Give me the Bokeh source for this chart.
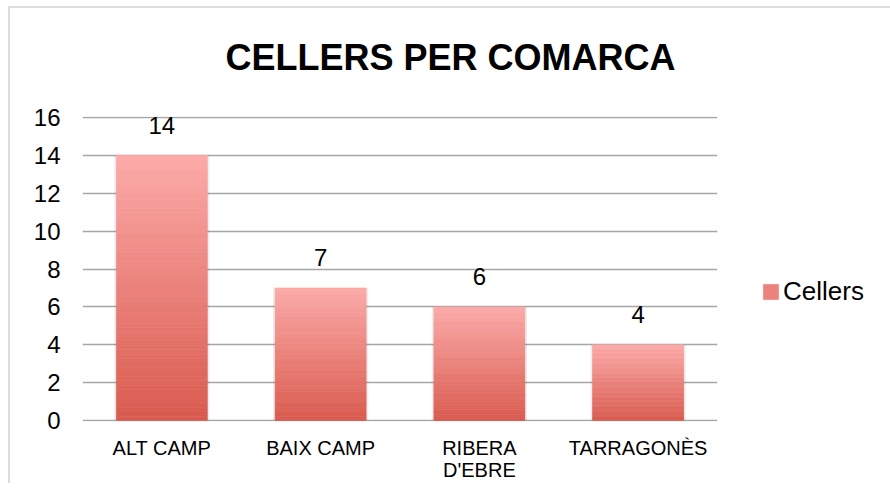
import numpy as np
from bokeh.plotting import figure
from bokeh.models import (ColumnDataSource, FactorRange, Range1d, FixedTicker,
                          LabelSet, Legend, LegendItem, CategoricalAxis,
                          CustomJSTickFormatter, Title)
from bokeh.core.properties import value
from bokeh.embed import file_html
from bokeh.resources import INLINE

# ---- data ----
categories = ["ALT CAMP", "BAIX CAMP", "RIBERA D'EBRE", "TARRAGONÈS"]
cellers = [14, 7, 6, 4]
label_line1 = ["ALT CAMP", "BAIX CAMP", "RIBERA", "TARRAGONÈS"]
label_line2 = ["", "", "D'EBRE", ""]
y_ticks = [0, 2, 4, 6, 8, 10, 12, 14, 16]
title_text = "CELLERS PER COMARCA"
series_name = "Cellers"

FONT = "Liberation Sans"
TOP_RGB = np.array([252, 170, 168])
BOT_RGB = np.array([217, 90, 78])

def mix(t):
    c = (BOT_RGB + (TOP_RGB - BOT_RGB) * t).round().astype(int)
    return "#%02x%02x%02x" % tuple(c)

p = figure(x_range=FactorRange(*categories), y_range=Range1d(-0.05, 16.05),
           frame_width=635, frame_height=305,
           min_border_left=72, min_border_right=160,
           min_border_top=107, min_border_bottom=62,
           output_backend="svg", toolbar_location=None)
p.outline_line_color = None
p.background_fill_color = "white"
p.border_fill_color = "white"
p.styles = {"border-top": "2px solid #dcdcdc", "border-left": "2px solid #dcdcdc",
            "margin-top": "6px", "margin-left": "8px"}

# title
p.title.text = title_text
p.title.align = "left"
p.title.vertical_align = "bottom"
p.title.offset = 143
p.title.standoff = 52
p.title.text_font = FONT
p.title.text_font_size = "36px"
p.title.text_font_style = "bold"
p.title.text_color = "black"
# small spacer between the title and the plot area
p.add_layout(Title(text=" ", text_font_size="1px", standoff=10), "above")

# gridlines
p.xgrid.grid_line_color = None
p.ygrid.grid_line_color = "#a6a6a6"
p.ygrid.grid_line_width = 1.6
p.ygrid.ticker = FixedTicker(ticks=y_ticks)

# axes
x2 = CategoricalAxis()
p.add_layout(x2, "below")
p.yaxis.ticker = FixedTicker(ticks=y_ticks)
for ax in (p.xaxis[0], x2, p.yaxis[0]):
    ax.axis_line_color = None
    ax.major_tick_line_color = None
    ax.minor_tick_line_color = None
    ax.major_tick_in = 0
    ax.major_tick_out = 0
    ax.major_label_text_font = FONT
    ax.major_label_text_color = "black"
    ax.major_label_text_font_size = "20px"
p.yaxis.major_label_text_font_size = "24px"
p.yaxis.major_label_standoff = 22

fmt_code = "const m = new Map(Object.entries(lines)); return m.has(tick) ? m.get(tick) : tick;"
p.xaxis[0].formatter = CustomJSTickFormatter(
    args=dict(lines=dict(zip(categories, label_line1))), code=fmt_code)
p.xaxis[0].major_label_standoff = 15
x2.formatter = CustomJSTickFormatter(
    args=dict(lines=dict(zip(categories, label_line2))), code=fmt_code)
x2.major_label_standoff = -3

# bar shadows
p.vbar(x=categories, top=cellers, bottom=0, width=0.6, fill_color="black",
       fill_alpha=0.07, line_color=None)

# gradient bars
N = 60
xs, bots, tops, cols = [], [], [], []
for cat, v in zip(categories, cellers):
    for k in range(N):
        xs.append(cat)
        bots.append(v * k / N)
        tops.append(v * (k + 1) / N)
        cols.append(mix((k + 0.5) / N))
bars = p.vbar(x=xs, bottom=bots, top=tops, width=0.573, fill_color=cols,
              line_color=cols, line_width=0.6)

# data labels
src = ColumnDataSource(dict(x=categories, y=cellers, t=[str(v) for v in cellers]))
p.add_layout(LabelSet(x="x", y="y", text="t", source=src, y_offset=30,
                      text_align="center", text_baseline="middle",
                      text_font=value(FONT), text_font_size="24px", text_color="black"))

# legend
legend = Legend(items=[LegendItem(label=series_name, renderers=[bars], index=N // 2)],
                location=(44, 114), orientation="vertical",
                glyph_width=19, glyph_height=19, label_standoff=3,
                label_text_font=FONT, label_text_font_size="26px",
                label_text_color="black", padding=0, margin=0, spacing=0,
                border_line_color=None, background_fill_alpha=0)
p.add_layout(legend, "right")

open("out.html", "w").write(file_html(p, INLINE))
